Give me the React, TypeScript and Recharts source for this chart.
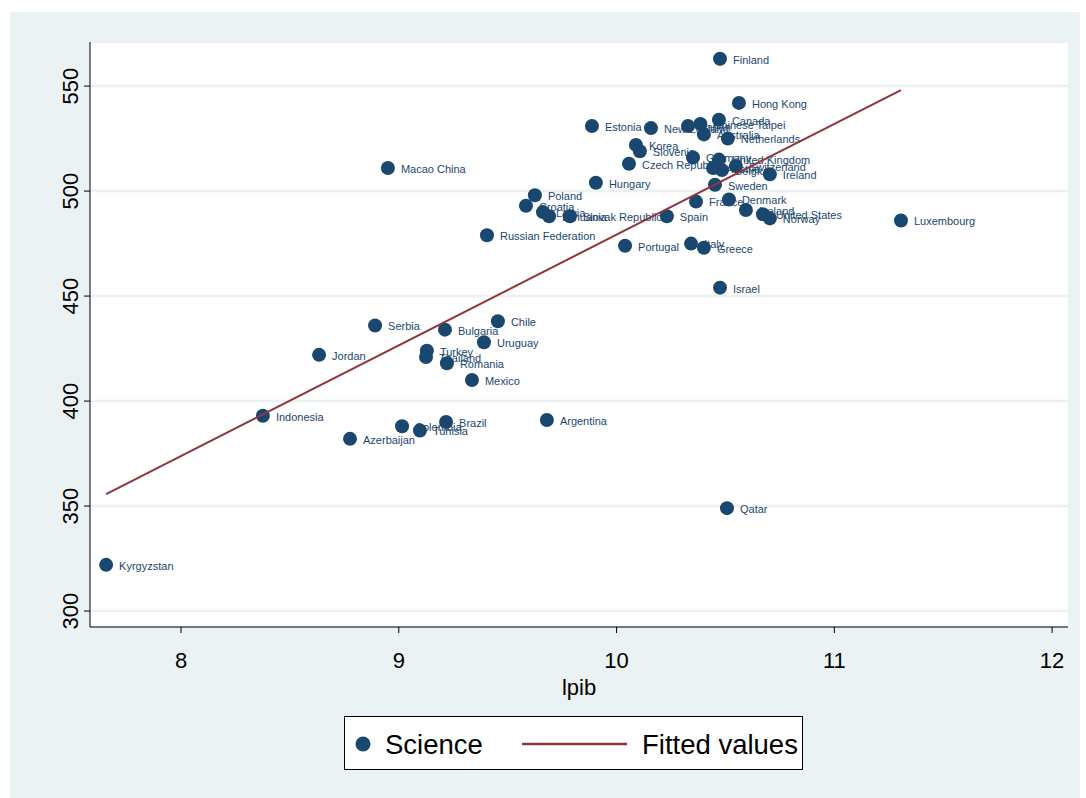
import React from "react";
import { ScatterChart, Scatter, XAxis, YAxis, CartesianGrid } from "recharts";

// PISA science score against log GDP per capita (lpib)
const countries = [
  "Finland", "Hong Kong", "Canada", "Chinese Taipei", "Estonia", "Japan", "New Zealand",
  "Australia", "Netherlands", "Korea", "Slovenia", "Germany", "United Kingdom",
  "Czech Republic", "Switzerland", "Macao China", "Austria", "Belgium", "Ireland",
  "Hungary", "Sweden", "Poland", "Denmark", "France", "Croatia", "Iceland", "Latvia",
  "United States", "Slovak Republic", "Spain", "Lithuania", "Norway", "Luxembourg",
  "Russian Federation", "Italy", "Portugal", "Greece", "Israel", "Chile", "Serbia",
  "Bulgaria", "Uruguay", "Turkey", "Jordan", "Thailand", "Romania", "Mexico",
  "Indonesia", "Argentina", "Brazil", "Colombia", "Tunisia", "Azerbaijan", "Qatar",
  "Kyrgyzstan",
];

const lpib = [
  10.475, 10.562, 10.47, 10.385, 9.887, 10.328, 10.158,
  10.401, 10.511, 10.089, 10.107, 10.351, 10.47,
  10.057, 10.548, 8.95, 10.443, 10.484, 10.704,
  9.905, 10.452, 9.625, 10.516, 10.365, 9.584, 10.594, 9.662,
  10.672, 9.786, 10.231, 9.69, 10.704, 11.306,
  9.405, 10.342, 10.039, 10.401, 10.475, 9.455, 8.891,
  9.212, 9.391, 9.129, 8.634, 9.125, 9.221, 9.336,
  8.376, 9.68, 9.217, 9.015, 9.097, 8.776, 10.507,
  7.656,
];

const science = [
  563, 542, 534, 532, 531, 531, 530,
  527, 525, 522, 519, 516, 515,
  513, 512, 511, 511, 510, 508,
  504, 503, 498, 496, 495, 493, 491, 490,
  489, 488, 488, 488, 487, 486,
  479, 475, 474, 473, 454, 438, 436,
  434, 428, 424, 422, 421, 418, 410,
  393, 391, 390, 388, 386, 382, 349,
  322,
];

// Fitted values line (end points of the linear fit)
const fittedX = [7.656, 11.306];
const fittedY = [355.7, 548.1];

const xTicks = [8, 9, 10, 11, 12];
const yTicks = [300, 350, 400, 450, 500, 550];

const NAVY = "#1a476f";
const MAROON = "#90353b";
const PANEL = "#eaf2f3";
const FONT = "'Liberation Sans', Arial, Helvetica, sans-serif";

const points = countries.map((name, i) => ({ name, x: lpib[i], y: science[i] }));
const fitted = fittedX.map((x, i) => ({ x, y: fittedY[i] }));

const PointWithLabel = (props: any) => {
  const { cx, cy, payload } = props;
  if (cx == null || cy == null) return <g />;
  return (
    <g>
      <circle cx={cx} cy={cy} r={7} fill={NAVY} />
      <text
        x={cx + 13}
        y={cy + 1}
        dy="0.35em"
        fontSize={11}
        fontFamily={FONT}
        fill={NAVY}
      >
        {payload.name}
      </text>
    </g>
  );
};

const NoShape = () => <g />;

const YTick = (props: any) => {
  const { x, y, payload } = props;
  const bx = x - 4;
  return (
    <text
      x={bx}
      y={y}
      transform={`rotate(-90 ${bx} ${y})`}
      textAnchor="middle"
      fontSize={22}
      fontFamily={FONT}
      fill="#000"
    >
      {payload.value}
    </text>
  );
};

const XTick = (props: any) => {
  const { x, y, payload } = props;
  return (
    <text x={x} y={y + 33} textAnchor="middle" fontSize={22} fontFamily={FONT} fill="#000">
      {payload.value}
    </text>
  );
};

const XTitle = (props: any) => {
  const { viewBox } = props;
  if (!viewBox) return null;
  const { x, y, width } = viewBox;
  return (
    <text x={x + width / 2} y={y + 68} textAnchor="middle" fontSize={22} fontFamily={FONT} fill="#000">
      lpib
    </text>
  );
};

const LegendBox = () => (
  <div
    style={{
      position: "absolute",
      left: 344,
      top: 716,
      width: 459,
      height: 54,
      background: "#fff",
      border: "1px solid #000",
      boxSizing: "border-box",
    }}
  >
    <svg width={457} height={52} style={{ position: "absolute", left: 0, top: 0 }}>
      <circle cx={18} cy={27} r={7.5} fill={NAVY} />
      <text x={40} y={37} fontSize={27.5} fontFamily={FONT} fill="#000">
        Science
      </text>
      <line x1={177} y1={27} x2={282} y2={27} stroke={MAROON} strokeWidth={2.5} />
      <text x={297} y={37} fontSize={27.5} fontFamily={FONT} fill="#000">
        Fitted values
      </text>
    </svg>
  </div>
);

export default function App() {
  return (
    <div style={{ position: "absolute", left: 0, top: 0, width: 1086, height: 798, background: "#fff" }}>
      <div style={{ position: "absolute", left: 10, top: 12, width: 1070, height: 786, background: PANEL }} />
      <div style={{ position: "absolute", left: 0, top: 0 }}>
        <ScatterChart
          width={1086}
          height={798}
          margin={{ top: 42, right: 18, bottom: 111, left: 10 }}
        >
          <CartesianGrid fill="#fff" vertical={false} stroke={PANEL} strokeWidth={2.5} />
          <XAxis
            type="number"
            dataKey="x"
            domain={[7.582, 12.073]}
            ticks={xTicks}
            allowDataOverflow
            height={60}
            tickSize={6}
            tickMargin={2}
            stroke="#000"
            tick={<XTick />}
            label={<XTitle />}
          />
          <YAxis
            type="number"
            dataKey="y"
            domain={[292.4, 571]}
            ticks={yTicks}
            allowDataOverflow
            width={80}
            tickSize={6}
            tickMargin={2}
            stroke="#000"
            tick={<YTick />}
          />
          <Scatter
            data={points}
            shape={<PointWithLabel />}
            isAnimationActive={false}
          />
          <Scatter
            data={fitted}
            line={{ stroke: MAROON, strokeWidth: 2 }}
            shape={<NoShape />}
            isAnimationActive={false}
          />
        </ScatterChart>
      </div>
      <LegendBox />
    </div>
  );
}
